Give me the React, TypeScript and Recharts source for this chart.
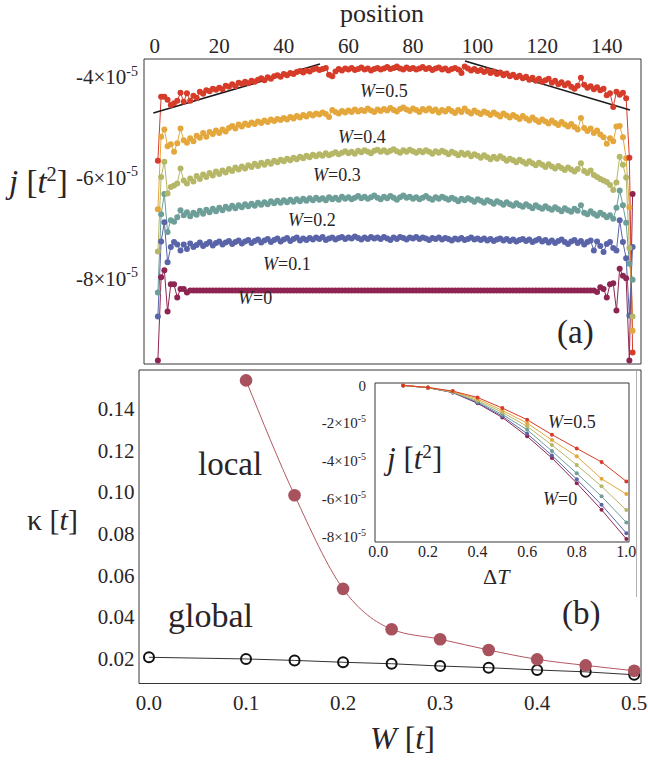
import React from "react";
import { LineChart, Line, XAxis, YAxis, ReferenceLine } from "recharts";

const SERIF = '"Liberation Serif", "Times New Roman", "DejaVu Serif", serif';
const INK = "#2a2426";
const FRAME = "#3b3537";

// ---------- panel (a): local current j along the chain (units of 1e-5 t^2)
const positions = Array.from({ length: 148 }, (_, i) => i + 1);

const jW0 = [
  -9.63, -7.98, -7.84, -8.66, -8.12, -8.12, -8.38, -8.21, -8.21, -8.28,
  -8.24, -8.24, -8.24, -8.24, -8.24, -8.24, -8.24, -8.24, -8.24, -8.24, -8.24, -8.24, -8.24, -8.24,
  -8.24, -8.24, -8.24, -8.24, -8.24, -8.24, -8.24, -8.24, -8.24, -8.24, -8.24, -8.24, -8.24, -8.24,
  -8.24, -8.24, -8.24, -8.24, -8.24, -8.24, -8.24, -8.24, -8.24, -8.24, -8.24, -8.24, -8.24, -8.24,
  -8.24, -8.24, -8.24, -8.24, -8.24, -8.24, -8.24, -8.24, -8.24, -8.24, -8.24, -8.24, -8.24, -8.24,
  -8.24, -8.24, -8.24, -8.24, -8.24, -8.24, -8.24, -8.24, -8.24, -8.24, -8.24, -8.24, -8.24, -8.24,
  -8.24, -8.24, -8.24, -8.24, -8.24, -8.24, -8.24, -8.24, -8.24, -8.24, -8.24, -8.24, -8.24, -8.24,
  -8.24, -8.24, -8.24, -8.24, -8.24, -8.24, -8.24, -8.24, -8.24, -8.24, -8.24, -8.24, -8.24, -8.24,
  -8.24, -8.24, -8.24, -8.24, -8.24, -8.24, -8.24, -8.24, -8.24, -8.24, -8.24, -8.24, -8.24, -8.24,
  -8.24, -8.24, -8.24, -8.24, -8.24, -8.24, -8.24, -8.24, -8.24, -8.24, -8.24, -8.24, -8.24, -8.24,
  -8.27, -8.18, -8.21, -8.38, -8.12, -8.10, -8.64, -7.81, -7.95, -8.00, -9.63, -6.33,
];

const jW01 = [
  -8.76, -7.27, -6.89, -7.68, -7.38, -7.28, -7.33, -7.45, -7.33, -7.42,
  -7.31, -7.38, -7.34, -7.29, -7.36, -7.32, -7.28, -7.35, -7.30, -7.27,
  -7.33, -7.29, -7.26, -7.32, -7.28, -7.25, -7.31, -7.27, -7.24, -7.30,
  -7.26, -7.23, -7.29, -7.25, -7.22, -7.28, -7.24, -7.21, -7.27, -7.23,
  -7.20, -7.26, -7.22, -7.19, -7.25, -7.21, -7.24, -7.20, -7.23, -7.19,
  -7.22, -7.18, -7.24, -7.21, -7.19, -7.23, -7.20, -7.18, -7.22, -7.19,
  -7.21, -7.17, -7.20, -7.23, -7.19, -7.22, -7.18, -7.21, -7.19, -7.22,
  -7.18, -7.21, -7.24, -7.19, -7.22, -7.18, -7.20, -7.23, -7.19, -7.21,
  -7.18, -7.22, -7.19, -7.21, -7.24, -7.20, -7.22, -7.19, -7.23, -7.20,
  -7.22, -7.25, -7.21, -7.23, -7.20, -7.24, -7.22, -7.19, -7.23, -7.21,
  -7.24, -7.21, -7.25, -7.22, -7.26, -7.23, -7.21, -7.25, -7.22, -7.26,
  -7.23, -7.27, -7.24, -7.22, -7.26, -7.23, -7.28, -7.25, -7.22, -7.27,
  -7.24, -7.29, -7.25, -7.30, -7.26, -7.23, -7.28, -7.32, -7.27, -7.24,
  -7.30, -7.26, -7.33, -7.28, -7.25, -7.45, -7.27, -7.36, -7.48, -7.32,
  -7.28, -7.40, -7.45, -6.85, -7.28, -7.60, -8.74, -7.38,
];

const jW02 = [
  -8.28, -6.73, -6.33, -7.08, -6.85, -6.88, -6.79, -6.65, -6.75, -6.69,
  -6.77, -6.70, -6.74, -6.66, -6.72, -6.64, -6.69, -6.62, -6.67, -6.60,
  -6.65, -6.58, -6.62, -6.56, -6.61, -6.55, -6.59, -6.53, -6.57, -6.52,
  -6.56, -6.50, -6.54, -6.49, -6.53, -6.47, -6.51, -6.46, -6.50, -6.45,
  -6.49, -6.44, -6.48, -6.43, -6.47, -6.42, -6.46, -6.41, -6.45, -6.40,
  -6.44, -6.41, -6.45, -6.39, -6.43, -6.40, -6.44, -6.38, -6.42, -6.39,
  -6.43, -6.40, -6.37, -6.41, -6.38, -6.42, -6.39, -6.36, -6.40, -6.43,
  -6.38, -6.41, -6.37, -6.40, -6.44, -6.39, -6.36, -6.40, -6.38, -6.42,
  -6.39, -6.43, -6.40, -6.37, -6.41, -6.44, -6.39, -6.42, -6.38, -6.41,
  -6.44, -6.40, -6.43, -6.47, -6.42, -6.45, -6.41, -6.44, -6.48, -6.43,
  -6.46, -6.50, -6.45, -6.48, -6.52, -6.47, -6.50, -6.54, -6.49, -6.53,
  -6.56, -6.51, -6.55, -6.58, -6.53, -6.57, -6.61, -6.55, -6.59, -6.62,
  -6.57, -6.61, -6.64, -6.59, -6.63, -6.67, -6.61, -6.65, -6.68, -6.62,
  -6.66, -6.55, -6.70, -6.73, -6.67, -6.72, -6.76, -6.70, -6.74, -6.79,
  -6.75, -6.82, -6.60, -6.26, -6.55, -6.90, -7.71, -8.03,
];

const jW03 = [
  -7.47, -5.99, -5.69, -6.32, -6.19, -6.16, -6.12, -5.82, -6.06, -6.12,
  -6.02, -6.08, -5.97, -6.03, -5.94, -5.99, -5.91, -5.96, -5.88, -5.93,
  -5.86, -5.90, -5.83, -5.87, -5.80, -5.84, -5.78, -5.82, -5.76, -5.79,
  -5.73, -5.77, -5.71, -5.75, -5.69, -5.73, -5.67, -5.70, -5.65, -5.68,
  -5.63, -5.66, -5.61, -5.64, -5.59, -5.62, -5.57, -5.60, -5.55, -5.58,
  -5.54, -5.57, -5.52, -5.56, -5.53, -5.50, -5.54, -5.51, -5.48, -5.52,
  -5.49, -5.53, -5.47, -5.50, -5.46, -5.49, -5.52, -5.47, -5.45, -5.49,
  -5.46, -5.50, -5.47, -5.44, -5.48, -5.51, -5.46, -5.49, -5.45, -5.48,
  -5.51, -5.47, -5.50, -5.46, -5.49, -5.53, -5.48, -5.51, -5.47, -5.50,
  -5.54, -5.49, -5.52, -5.56, -5.51, -5.55, -5.52, -5.58, -5.54, -5.57,
  -5.61, -5.56, -5.60, -5.64, -5.59, -5.63, -5.58, -5.62, -5.67, -5.63,
  -5.66, -5.70, -5.65, -5.69, -5.73, -5.68, -5.72, -5.76, -5.71, -5.75,
  -5.79, -5.74, -5.78, -5.82, -5.77, -5.81, -5.85, -5.80, -5.84, -5.88,
  -5.83, -5.72, -5.87, -5.91, -5.86, -5.95, -5.99, -6.03, -6.06, -6.09,
  -6.15, -6.25, -6.10, -5.59, -5.75, -6.00, -7.40, -8.76,
];

const jW04 = [
  -6.63, -5.19, -5.05, -5.38, -5.34, -5.49, -5.32, -5.03, -5.26, -5.31,
  -5.22, -5.28, -5.17, -5.21, -5.12, -5.19, -5.10, -5.14, -5.07, -5.12,
  -5.05, -5.09, -5.02, -4.98, -5.03, -4.95, -4.99, -4.93, -4.96, -4.91,
  -4.94, -4.89, -4.92, -4.87, -4.90, -4.85, -4.88, -4.84, -4.86, -4.82,
  -4.85, -4.80, -4.83, -4.78, -4.81, -4.76, -4.79, -4.74, -4.77, -4.73,
  -4.75, -4.71, -4.74, -4.80, -4.66, -4.70, -4.73, -4.68, -4.71, -4.67,
  -4.70, -4.65, -4.69, -4.66, -4.68, -4.63, -4.67, -4.70, -4.65, -4.68,
  -4.64, -4.67, -4.62, -4.66, -4.69, -4.64, -4.61, -4.65, -4.68, -4.63,
  -4.66, -4.70, -4.64, -4.67, -4.63, -4.68, -4.65, -4.71, -4.66, -4.69,
  -4.64, -4.68, -4.72, -4.66, -4.70, -4.63, -4.69, -4.73, -4.67, -4.71,
  -4.74, -4.69, -4.72, -4.76, -4.71, -4.75, -4.79, -4.73, -4.77, -4.81,
  -4.76, -4.80, -4.84, -4.78, -4.83, -4.87, -4.81, -4.86, -4.90, -4.85,
  -4.89, -4.93, -4.87, -4.92, -4.96, -4.90, -4.95, -4.99, -4.94, -5.00,
  -5.05, -4.82, -5.02, -5.08, -5.03, -5.12, -5.07, -5.15, -5.20, -5.33,
  -5.22, -5.28, -4.99, -4.98, -5.20, -5.62, -6.59, -9.04,
];

const jW05 = [
  -5.67, -4.40, -4.40, -4.46, -4.56, -4.53, -4.48, -4.32, -4.50, -4.33,
  -4.48, -4.38, -4.42, -4.30, -4.34, -4.27, -4.29, -4.24, -4.26, -4.22,
  -4.25, -4.18, -4.20, -4.15, -4.19, -4.12, -4.14, -4.10, -4.13, -4.08,
  -4.10, -4.06, -4.03, -4.07, -4.01, -4.04, -3.99, -3.97, -4.00, -3.95,
  -3.97, -3.93, -3.95, -3.91, -3.89, -3.92, -3.88, -3.90, -3.86, -3.84,
  -3.87, -3.85, -3.83, -3.96, -3.99, -3.90, -3.85, -3.88, -3.84, -3.86,
  -3.83, -3.87, -3.85, -3.82, -3.86, -3.84, -3.88, -3.85, -3.83, -3.86,
  -3.84, -3.81, -3.85, -3.83, -3.80, -3.84, -3.86, -3.82, -3.85, -3.83,
  -3.86, -3.84, -3.81, -3.85, -3.83, -3.87, -3.84, -3.82, -3.86, -3.84,
  -3.88, -3.85, -3.83, -3.86, -3.93, -3.80, -3.84, -3.88, -3.85, -3.89,
  -3.87, -3.91, -3.88, -3.93, -3.90, -3.95, -3.92, -3.97, -3.94, -3.99,
  -3.96, -4.01, -3.98, -4.03, -4.00, -4.06, -4.02, -4.08, -4.04, -4.10,
  -4.07, -4.04, -4.12, -4.08, -4.15, -4.11, -4.17, -4.13, -4.20, -4.24,
  -4.18, -4.02, -4.16, -4.22, -4.19, -4.25, -4.21, -4.27, -4.24, -4.37,
  -4.33, -4.60, -4.30, -4.36, -4.32, -4.43, -5.61, -9.47,
];

// straight fits drawn over the W=0.5 profile
const fitLeft = [{ x: -0.4, y: -4.72 }, { x: 51.2, y: -3.75 }];
const fitMiddle = [{ x: 57.9, y: -3.85 }, { x: 95.1, y: -3.85 }];
const fitRight = [{ x: 96.1, y: -3.69 }, { x: 147.2, y: -4.66 }];

const posTicks = [0, 20, 40, 60, 80, 100, 120, 140];
const posMinorTicks = [0, 5, 10, 15, 20, 25, 30, 35, 40, 45, 50, 55, 60, 65, 70, 75, 80, 85, 90, 95, 100, 105, 110, 115, 120, 125, 130, 135, 140, 145, 150];
const jTicks = [-8, -6, -4];

// ---------- panel (b): conductance vs disorder
const wGrid = [0, 0.1, 0.15, 0.2, 0.25, 0.3, 0.35, 0.4, 0.45, 0.5];
const kappaLocal = [null, 0.1536, 0.0984, 0.0534, 0.034, 0.0292, 0.024, 0.0195, 0.0166, 0.014];
const kappaGlobal = [0.0205, 0.0197, 0.019, 0.0181, 0.0174, 0.0163, 0.0155, 0.0144, 0.0135, 0.0121];

const wTicks = [0, 0.1, 0.2, 0.3, 0.4, 0.5];
const wMinorTicks = [0, 0.02, 0.04, 0.06, 0.08, 0.1, 0.12, 0.14, 0.16, 0.18, 0.2, 0.22, 0.24, 0.26, 0.28, 0.3, 0.32, 0.34, 0.36, 0.38, 0.4, 0.42, 0.44, 0.46, 0.48, 0.5];
const kappaTicks = [0.02, 0.04, 0.06, 0.08, 0.1, 0.12, 0.14];
const kappaMinorTicks = [0.01, 0.015, 0.02, 0.025, 0.03, 0.035, 0.04, 0.045, 0.05, 0.055, 0.06, 0.065, 0.07, 0.075, 0.08, 0.085, 0.09, 0.095, 0.1, 0.105, 0.11, 0.115, 0.12, 0.125, 0.13, 0.135, 0.14, 0.145, 0.15, 0.155];

// ---------- inset: j vs temperature bias (units of 1e-5 t^2)
const deltaT = [0.1, 0.2, 0.3, 0.4, 0.5, 0.6, 0.7, 0.8, 0.9, 1.0];
const jdtW0 = [0, -0.12, -0.38, -0.95, -1.7, -2.7, -3.85, -5.18, -6.59, -8.14];
const jdtW01 = [0, -0.12, -0.37, -0.92, -1.63, -2.56, -3.71, -4.98, -6.33, -7.83];
const jdtW02 = [0, -0.12, -0.36, -0.87, -1.54, -2.35, -3.48, -4.66, -5.88, -7.26];
const jdtW03 = [0, -0.11, -0.35, -0.8, -1.43, -2.17, -3.16, -4.22, -5.35, -6.61];
const jdtW04 = [0, -0.11, -0.33, -0.72, -1.33, -2.0, -2.9, -3.76, -4.95, -5.76];
const jdtW05 = [0, -0.11, -0.3, -0.64, -1.2, -1.82, -2.61, -3.34, -4.06, -5.09];

const dtTicks = [0, 0.2, 0.4, 0.6, 0.8, 1.0];
const dtMinorTicks = [0, 0.05, 0.1, 0.15, 0.2, 0.25, 0.3, 0.35, 0.4, 0.45, 0.5, 0.55, 0.6, 0.65, 0.7, 0.75, 0.8, 0.85, 0.9, 0.95, 1.0];
const jdtTicks = [-8, -6, -4, -2, 0];

const series = [
  { key: "w0", color: "#8e2451" },
  { key: "w01", color: "#5a64a8" },
  { key: "w02", color: "#6d9e98" },
  { key: "w03", color: "#b6b766" },
  { key: "w04", color: "#e4a73c" },
  { key: "w05", color: "#d63c29" },
];

const dataA = positions.map((pos, i) => ({
  pos,
  w0: jW0[i],
  w01: jW01[i],
  w02: jW02[i],
  w03: jW03[i],
  w04: jW04[i],
  w05: jW05[i],
}));

const dataB = wGrid.map((w, i) => ({ w, local: kappaLocal[i], global: kappaGlobal[i] }));

const dataInset = deltaT.map((dt, i) => ({
  dt,
  w0: jdtW0[i],
  w01: jdtW01[i],
  w02: jdtW02[i],
  w03: jdtW03[i],
  w04: jdtW04[i],
  w05: jdtW05[i],
}));

function SciTick({ x, y, payload, size, sup }: any) {
  if (payload.value === 0) {
    return (
      <text x={x} y={y} dy={size * 0.35} textAnchor="end" fill={INK} fontFamily={SERIF} fontSize={size}>
        0
      </text>
    );
  }
  return (
    <text x={x} y={y} dy={size * 0.35} textAnchor="end" fill={INK} fontFamily={SERIF} fontSize={size}>
      {`${payload.value}×10`}
      <tspan dy={-size * 0.4} fontSize={sup}>-5</tspan>
    </text>
  );
}

const abs = { position: "absolute" as const, left: 0, top: 0 };
const tickFont = { fill: INK, fontFamily: SERIF };

function JLabel({ x, y, size }: { x: number; y: number; size: number }) {
  return (
    <text x={x} y={y} fontSize={size}>
      <tspan fontStyle="italic">j</tspan> [<tspan fontStyle="italic">t</tspan>
      <tspan dy={-size * 0.36} fontSize={size * 0.62}>2</tspan>
      <tspan dy={size * 0.36}>]</tspan>
    </text>
  );
}

export default function App() {
  return (
    <div style={{ position: "absolute", left: 0, top: 0, width: 648, height: 762, background: "#fff" }}>
      {/* panel (a) */}
      <div style={abs}>
        <LineChart width={648} height={380} data={dataA} margin={{ top: 58, left: 143, right: 6, bottom: 15 }}>
          <XAxis xAxisId="top" orientation="top" type="number" dataKey="pos" domain={[-3.3, 150.6]} allowDataOverflow
            ticks={posTicks} height={1} tickSize={0} tickMargin={6} tickLine={false}
            axisLine={{ stroke: FRAME }} tick={{ ...tickFont, fontSize: 21 }} />
          <XAxis xAxisId="topMajor" orientation="top" type="number" domain={[-3.3, 150.6]} allowDataOverflow mirror
            ticks={posTicks} height={1} tickSize={5} tick={false} axisLine={false} tickLine={{ stroke: FRAME }} />
          <XAxis xAxisId="topMinor" orientation="top" type="number" domain={[-3.3, 150.6]} allowDataOverflow mirror
            ticks={posMinorTicks} height={1} tickSize={3} tick={false} axisLine={false} tickLine={{ stroke: FRAME }} />
          <XAxis xAxisId="bottom" orientation="bottom" type="number" domain={[-3.3, 150.6]} allowDataOverflow
            height={1} tick={false} tickLine={false} axisLine={{ stroke: FRAME }} />
          <YAxis yAxisId="left" type="number" domain={[-9.7, -3.65]} allowDataOverflow ticks={jTicks}
            width={1} tickSize={0} tickMargin={6} tickLine={false} axisLine={{ stroke: FRAME }}
            tick={<SciTick size={21} sup={14} />} />
          <YAxis yAxisId="leftMajor" type="number" domain={[-9.7, -3.65]} allowDataOverflow ticks={jTicks} mirror
            width={1} tickSize={4} tick={false} axisLine={false} tickLine={{ stroke: FRAME }} />
          <YAxis yAxisId="right" orientation="right" type="number" domain={[-9.7, -3.65]} allowDataOverflow
            width={1} tick={false} tickLine={false} axisLine={{ stroke: FRAME }} />
          {series.map((s) => (
            <Line key={s.key} xAxisId="top" yAxisId="left" dataKey={s.key} type="linear" stroke={s.color}
              strokeWidth={1} dot={{ r: 3, fill: s.color, stroke: "none" }} activeDot={false}
              isAnimationActive={false} />
          ))}
          {[fitLeft, fitMiddle, fitRight].map((seg, i) => (
            <ReferenceLine key={i} xAxisId="top" yAxisId="left" segment={seg} stroke="#1a1a1a" strokeWidth={1.6} />
          ))}
        </LineChart>
      </div>

      {/* panel (b) */}
      <div style={abs}>
        <LineChart width={648} height={762} data={dataB} margin={{ top: 369, left: 138, right: 6, bottom: 77.5 }}>
          <XAxis xAxisId="b" type="number" dataKey="w" domain={[-0.0103, 0.507]} allowDataOverflow ticks={wTicks}
            height={1} tickSize={0} tickMargin={11.5} tickLine={false} axisLine={{ stroke: FRAME }}
            tickFormatter={(v: number) => v.toFixed(1)} tick={{ ...tickFont, fontSize: 21 }} />
          <XAxis xAxisId="bMajor" type="number" domain={[-0.0103, 0.507]} allowDataOverflow ticks={wTicks} mirror
            height={1} tickSize={6} tick={false} axisLine={false} tickLine={{ stroke: FRAME }} />
          <XAxis xAxisId="bMinor" type="number" domain={[-0.0103, 0.507]} allowDataOverflow ticks={wMinorTicks} mirror
            height={1} tickSize={3.5} tick={false} axisLine={false} tickLine={{ stroke: FRAME }} />
          <XAxis xAxisId="t" orientation="top" type="number" domain={[-0.0103, 0.507]} allowDataOverflow
            height={1} tick={false} tickLine={false} axisLine={{ stroke: FRAME }} />
          <YAxis yAxisId="l" type="number" domain={[0.0079, 0.1586]} allowDataOverflow ticks={kappaTicks}
            width={1} tickSize={0} tickMargin={4.5} tickLine={false} axisLine={{ stroke: FRAME }}
            tickFormatter={(v: number) => v.toFixed(2)} tick={{ ...tickFont, fontSize: 21 }} />
          <YAxis yAxisId="lMajor" type="number" domain={[0.0079, 0.1586]} allowDataOverflow ticks={kappaTicks} mirror
            width={1} tickSize={6} tick={false} axisLine={false} tickLine={{ stroke: FRAME }} />
          <YAxis yAxisId="lMinor" type="number" domain={[0.0079, 0.1586]} allowDataOverflow ticks={kappaMinorTicks} mirror
            width={1} tickSize={3.5} tick={false} axisLine={false} tickLine={{ stroke: FRAME }} />
          <YAxis yAxisId="r" orientation="right" type="number" domain={[0.0079, 0.1586]} allowDataOverflow
            width={1} tick={false} tickLine={false} axisLine={{ stroke: FRAME }} />
          <Line xAxisId="b" yAxisId="l" dataKey="global" type="linear" stroke="#333" strokeWidth={1}
            dot={{ r: 5, fill: "none", stroke: "#111", strokeWidth: 2 }} activeDot={false} isAnimationActive={false} />
          <Line xAxisId="b" yAxisId="l" dataKey="local" type="monotone" stroke="#b25862" strokeWidth={1}
            dot={{ r: 6.3, fill: "#a8525d", stroke: "none" }} activeDot={false} isAnimationActive={false} />
        </LineChart>
      </div>

      {/* inset outer edge */}
      <svg width={648} height={762} style={abs}>
        <line x1={636.5} y1={371} x2={636.5} y2={597} stroke="#b5b0b2" strokeWidth={1} />
      </svg>

      {/* inset */}
      <div style={abs}>
        <LineChart width={648} height={762} data={dataInset} margin={{ top: 382, left: 374, right: 18, bottom: 219 }}>
          <XAxis xAxisId="b" type="number" dataKey="dt" domain={[-0.0135, 1.0107]} allowDataOverflow ticks={dtTicks}
            height={1} tickSize={0} tickMargin={4} tickLine={false} axisLine={{ stroke: FRAME }}
            tickFormatter={(v: number) => v.toFixed(1)} tick={{ ...tickFont, fontSize: 16 }} />
          <XAxis xAxisId="bMajor" type="number" domain={[-0.0135, 1.0107]} allowDataOverflow ticks={dtTicks} mirror
            height={1} tickSize={4} tick={false} axisLine={false} tickLine={{ stroke: FRAME }} />
          <XAxis xAxisId="bMinor" type="number" domain={[-0.0135, 1.0107]} allowDataOverflow ticks={dtMinorTicks} mirror
            height={1} tickSize={2.5} tick={false} axisLine={false} tickLine={{ stroke: FRAME }} />
          <XAxis xAxisId="t" orientation="top" type="number" domain={[-0.0135, 1.0107]} allowDataOverflow
            height={1} tick={false} tickLine={false} axisLine={{ stroke: FRAME }} />
          <YAxis yAxisId="l" type="number" domain={[-8.3, 0.127]} allowDataOverflow ticks={jdtTicks}
            width={1} tickSize={0} tickMargin={9} tickLine={false} axisLine={{ stroke: FRAME }}
            tick={<SciTick size={15} sup={10} />} />
          <YAxis yAxisId="lMajor" type="number" domain={[-8.3, 0.127]} allowDataOverflow ticks={jdtTicks} mirror
            width={1} tickSize={4} tick={false} axisLine={false} tickLine={{ stroke: FRAME }} />
          <YAxis yAxisId="r" orientation="right" type="number" domain={[-8.3, 0.127]} allowDataOverflow
            width={1} tick={false} tickLine={false} axisLine={{ stroke: FRAME }} />
          {series.map((s) => (
            <Line key={s.key} xAxisId="b" yAxisId="l" dataKey={s.key} type="linear" stroke={s.color}
              strokeWidth={1} dot={{ r: 2, fill: s.color, stroke: "none" }} activeDot={false}
              isAnimationActive={false} />
          ))}
        </LineChart>
      </div>

      {/* text annotations */}
      <svg width={648} height={762} style={abs} fontFamily={SERIF} fill={INK}>
        <text x={382} y={22} fontSize={26} textAnchor="middle">position</text>
        <JLabel x={9} y={193} size={33} />
        <text x={360} y={97} fontSize={18}><tspan fontStyle="italic">W</tspan>=0.5</text>
        <text x={338} y={143} fontSize={18}><tspan fontStyle="italic">W</tspan>=0.4</text>
        <text x={313} y={181} fontSize={18}><tspan fontStyle="italic">W</tspan>=0.3</text>
        <text x={288} y={226} fontSize={18}><tspan fontStyle="italic">W</tspan>=0.2</text>
        <text x={263} y={270} fontSize={18}><tspan fontStyle="italic">W</tspan>=0.1</text>
        <text x={238} y={304} fontSize={18}><tspan fontStyle="italic">W</tspan>=0</text>
        <text x={557} y={343} fontSize={33}>(a)</text>

        <text x={27} y={530} fontSize={30}>κ [<tspan fontStyle="italic">t</tspan>]</text>
        <text x={198} y={475} fontSize={33}>local</text>
        <text x={168} y={627} fontSize={34}>global</text>
        <text x={562} y={624} fontSize={33}>(b)</text>
        <text x={370} y={749} fontSize={32}>
          <tspan fontStyle="italic">W</tspan> [<tspan fontStyle="italic">t</tspan>]
        </text>

        <JLabel x={387} y={469} size={31} />
        <text x={548} y={428} fontSize={18}><tspan fontStyle="italic">W</tspan>=0.5</text>
        <text x={543} y={505} fontSize={18}><tspan fontStyle="italic">W</tspan>=0</text>
        <text x={483} y={584} fontSize={22}>Δ<tspan fontStyle="italic">T</tspan></text>
      </svg>
    </div>
  );
}
